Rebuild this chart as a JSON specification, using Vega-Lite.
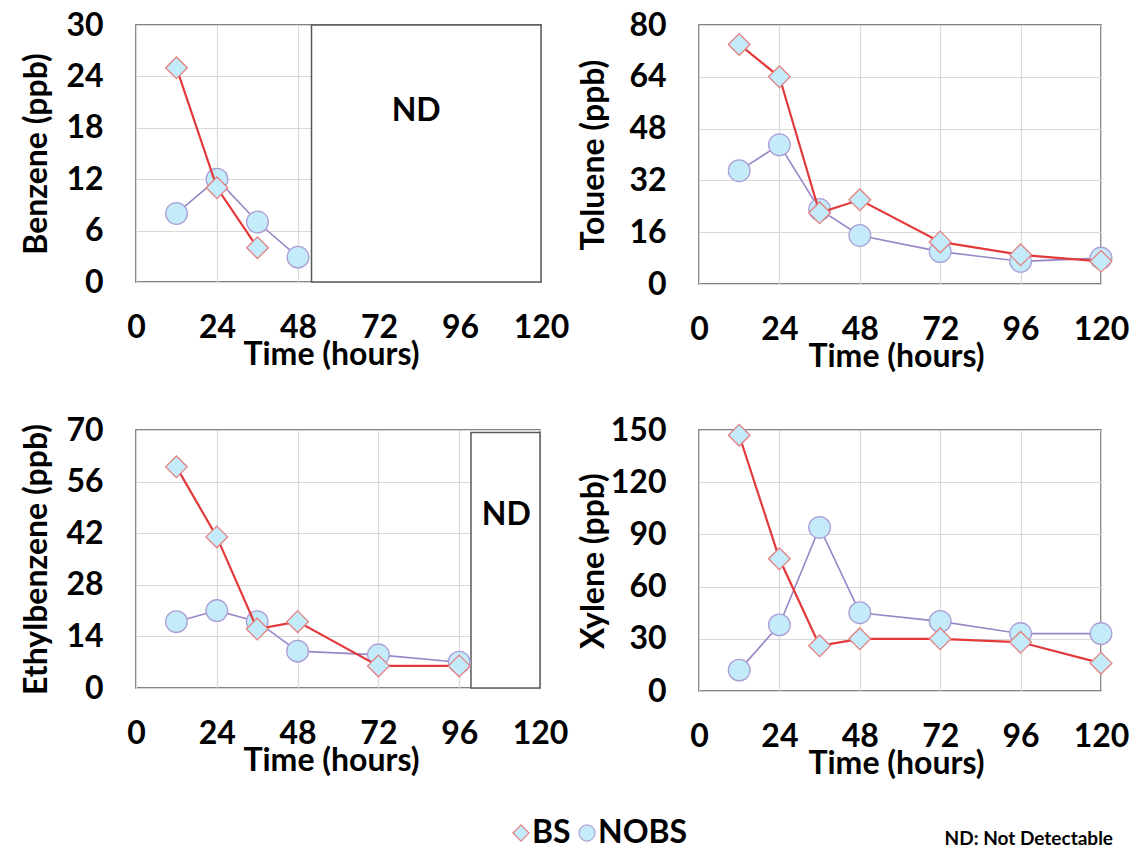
{
 "$schema": "https://vega.github.io/schema/vega-lite/v6.json",
 "padding": {"left": 19, "top": 8, "right": 5, "bottom": 5},
 "background": "white",
 "datasets": {
  "bt": [
   {"compound":"Benzene","series":"NOBS","time":12,"value":8},
   {"compound":"Benzene","series":"NOBS","time":24,"value":12},
   {"compound":"Benzene","series":"NOBS","time":36,"value":7},
   {"compound":"Benzene","series":"NOBS","time":48,"value":2.9},
   {"compound":"Benzene","series":"BS","time":12,"value":25},
   {"compound":"Benzene","series":"BS","time":24,"value":11},
   {"compound":"Benzene","series":"BS","time":36,"value":4},
   {"compound":"Toluene","series":"NOBS","time":12,"value":35},
   {"compound":"Toluene","series":"NOBS","time":24,"value":43},
   {"compound":"Toluene","series":"NOBS","time":36,"value":23},
   {"compound":"Toluene","series":"NOBS","time":48,"value":15},
   {"compound":"Toluene","series":"NOBS","time":72,"value":10},
   {"compound":"Toluene","series":"NOBS","time":96,"value":7},
   {"compound":"Toluene","series":"NOBS","time":120,"value":8},
   {"compound":"Toluene","series":"BS","time":12,"value":74},
   {"compound":"Toluene","series":"BS","time":24,"value":64},
   {"compound":"Toluene","series":"BS","time":36,"value":22},
   {"compound":"Toluene","series":"BS","time":48,"value":26},
   {"compound":"Toluene","series":"BS","time":72,"value":13},
   {"compound":"Toluene","series":"BS","time":96,"value":9},
   {"compound":"Toluene","series":"BS","time":120,"value":7},
   {"compound":"Ethylbenzene","series":"NOBS","time":12,"value":18},
   {"compound":"Ethylbenzene","series":"NOBS","time":24,"value":21},
   {"compound":"Ethylbenzene","series":"NOBS","time":36,"value":18},
   {"compound":"Ethylbenzene","series":"NOBS","time":48,"value":10},
   {"compound":"Ethylbenzene","series":"NOBS","time":72,"value":9},
   {"compound":"Ethylbenzene","series":"NOBS","time":96,"value":7},
   {"compound":"Ethylbenzene","series":"BS","time":12,"value":60},
   {"compound":"Ethylbenzene","series":"BS","time":24,"value":41},
   {"compound":"Ethylbenzene","series":"BS","time":36,"value":16},
   {"compound":"Ethylbenzene","series":"BS","time":48,"value":18},
   {"compound":"Ethylbenzene","series":"BS","time":72,"value":6},
   {"compound":"Ethylbenzene","series":"BS","time":96,"value":6},
   {"compound":"Xylene","series":"NOBS","time":12,"value":12},
   {"compound":"Xylene","series":"NOBS","time":24,"value":38},
   {"compound":"Xylene","series":"NOBS","time":36,"value":94},
   {"compound":"Xylene","series":"NOBS","time":48,"value":45},
   {"compound":"Xylene","series":"NOBS","time":72,"value":40},
   {"compound":"Xylene","series":"NOBS","time":96,"value":33},
   {"compound":"Xylene","series":"NOBS","time":120,"value":33},
   {"compound":"Xylene","series":"BS","time":12,"value":147},
   {"compound":"Xylene","series":"BS","time":24,"value":76},
   {"compound":"Xylene","series":"BS","time":36,"value":26},
   {"compound":"Xylene","series":"BS","time":48,"value":30},
   {"compound":"Xylene","series":"BS","time":72,"value":30},
   {"compound":"Xylene","series":"BS","time":96,"value":28},
   {"compound":"Xylene","series":"BS","time":120,"value":16}
  ],
  "nd": [
   {"compound":"Benzene","time":52,"time2":120,"value":0,"value2":30},
   {"compound":"Ethylbenzene","time":99.5,"time2":120,"value":0,"value2":69.3}
  ],
  "ndlabel": [
   {"compound":"Benzene","time":83,"value":20,"label":"ND"},
   {"compound":"Ethylbenzene","time":110,"value":47,"label":"ND"}
  ]
 },
 "columns": 2,
 "bounds": "flush",
 "spacing": {"column": 158, "row": 146},
 "resolve": {"legend": {"shape": "independent", "stroke": "independent"}},
 "concat": [
  {
   "width": 405, "height": 257,
   "encoding": {
    "x": {"field":"time","type":"quantitative","scale":{"domain":[0,120],"nice":false,"zero":false},"axis":{"values":[0,24,48,72,96,120],"title":"Time (hours)","titleX":195}},
    "y": {"field":"value","type":"quantitative","scale":{"domain":[0,30],"nice":false},"axis":{"values":[0,6,12,18,24,30],"title":"Benzene (ppb)","titleX":-100}}
   },
   "layer": [
    {"data":{"name":"nd"},"transform":[{"filter":{"field":"compound","equal":"Benzene"}}],"mark":{"type":"rect","fill":"white","stroke":"#595959","strokeWidth":1.5},"encoding":{"x2":{"field":"time2"},"y2":{"field":"value2"}}},
    {"data":{"name":"ndlabel"},"transform":[{"filter":{"field":"compound","equal":"Benzene"}}],"mark":{"type":"text","font":"Lato","fontWeight":"bold","fontSize":32,"color":"#000"},"encoding":{"text":{"field":"label"}}},
    {"data":{"name":"bt"},"transform":[{"filter":"datum.compound==='Benzene' && datum.series==='NOBS'"}],"mark":{"type":"line","strokeWidth":1.6,"color":"#9a86c6"},"encoding":{}},
    {"data":{"name":"bt"},"transform":[{"filter":"datum.compound==='Benzene' && datum.series==='NOBS'"}],"mark":{"type":"point","filled":true,"fill":"#c3ebf9","size":470,"strokeWidth":1.3,"opacity":1},"encoding":{"shape":{"field":"series","type":"nominal","scale":{"domain":["BS","NOBS"],"range":["diamond","circle"]},"legend":null},"stroke":{"field":"series","type":"nominal","scale":{"domain":["BS","NOBS"],"range":["#e58080","#ad9fd6"]},"legend":null}}},
    {"data":{"name":"bt"},"transform":[{"filter":"datum.compound==='Benzene' && datum.series==='BS'"}],"mark":{"type":"line","strokeWidth":2.2,"color":"#e2393a"},"encoding":{}},
    {"data":{"name":"bt"},"transform":[{"filter":"datum.compound==='Benzene' && datum.series==='BS'"}],"mark":{"type":"point","filled":true,"fill":"#c3ebf9","size":470,"strokeWidth":1.3,"opacity":1},"encoding":{"shape":{"field":"series","type":"nominal","scale":{"domain":["BS","NOBS"],"range":["diamond","circle"]},"legend":null},"stroke":{"field":"series","type":"nominal","scale":{"domain":["BS","NOBS"],"range":["#e58080","#ad9fd6"]},"legend":null}}}
   ]
  },
  {
   "width": 402, "height": 259,
   "encoding": {
    "x": {"field":"time","type":"quantitative","scale":{"domain":[0,120],"nice":false,"zero":false},"axis":{"values":[0,24,48,72,96,120],"title":"Time (hours)","titleX":197}},
    "y": {"field":"value","type":"quantitative","scale":{"domain":[0,80],"nice":false},"axis":{"values":[0,16,32,48,64,80],"title":"Toluene (ppb)","titleX":-106}}
   },
   "layer": [
    {"data":{"name":"bt"},"transform":[{"filter":"datum.compound==='Toluene' && datum.series==='NOBS'"}],"mark":{"type":"line","strokeWidth":1.6,"color":"#9a86c6"},"encoding":{}},
    {"data":{"name":"bt"},"transform":[{"filter":"datum.compound==='Toluene' && datum.series==='NOBS'"}],"mark":{"type":"point","filled":true,"fill":"#c3ebf9","size":470,"strokeWidth":1.3,"opacity":1},"encoding":{"shape":{"field":"series","type":"nominal","scale":{"domain":["BS","NOBS"],"range":["diamond","circle"]},"legend":null},"stroke":{"field":"series","type":"nominal","scale":{"domain":["BS","NOBS"],"range":["#e58080","#ad9fd6"]},"legend":null}}},
    {"data":{"name":"bt"},"transform":[{"filter":"datum.compound==='Toluene' && datum.series==='BS'"}],"mark":{"type":"line","strokeWidth":2.2,"color":"#e2393a"},"encoding":{}},
    {"data":{"name":"bt"},"transform":[{"filter":"datum.compound==='Toluene' && datum.series==='BS'"}],"mark":{"type":"point","filled":true,"fill":"#c3ebf9","size":470,"strokeWidth":1.3,"opacity":1},"encoding":{"shape":{"field":"series","type":"nominal","scale":{"domain":["BS","NOBS"],"range":["diamond","circle"]},"legend":null},"stroke":{"field":"series","type":"nominal","scale":{"domain":["BS","NOBS"],"range":["#e58080","#ad9fd6"]},"legend":null}}}
   ]
  },
  {
   "width": 404, "height": 258,
   "encoding": {
    "x": {"field":"time","type":"quantitative","scale":{"domain":[0,120],"nice":false,"zero":false},"axis":{"values":[0,24,48,72,96,120],"title":"Time (hours)","titleX":195}},
    "y": {"field":"value","type":"quantitative","scale":{"domain":[0,70],"nice":false},"axis":{"values":[0,14,28,42,56,70],"title":"Ethylbenzene (ppb)","titleX":-100}}
   },
   "layer": [
    {"data":{"name":"nd"},"transform":[{"filter":{"field":"compound","equal":"Ethylbenzene"}}],"mark":{"type":"rect","fill":"white","stroke":"#595959","strokeWidth":1.5},"encoding":{"x2":{"field":"time2"},"y2":{"field":"value2"}}},
    {"data":{"name":"ndlabel"},"transform":[{"filter":{"field":"compound","equal":"Ethylbenzene"}}],"mark":{"type":"text","font":"Lato","fontWeight":"bold","fontSize":32,"color":"#000"},"encoding":{"text":{"field":"label"}}},
    {"data":{"name":"bt"},"transform":[{"filter":"datum.compound==='Ethylbenzene' && datum.series==='NOBS'"}],"mark":{"type":"line","strokeWidth":1.6,"color":"#9a86c6"},"encoding":{}},
    {"data":{"name":"bt"},"transform":[{"filter":"datum.compound==='Ethylbenzene' && datum.series==='NOBS'"}],"mark":{"type":"point","filled":true,"fill":"#c3ebf9","size":470,"strokeWidth":1.3,"opacity":1},"encoding":{"shape":{"field":"series","type":"nominal","scale":{"domain":["BS","NOBS"],"range":["diamond","circle"]},"legend":{"orient":"none","legendX":369,"legendY":387,"direction":"horizontal","title":null}},"stroke":{"field":"series","type":"nominal","scale":{"domain":["BS","NOBS"],"range":["#e58080","#ad9fd6"]},"legend":{"orient":"none","legendX":369,"legendY":387,"direction":"horizontal","title":null}}}},
    {"data":{"name":"bt"},"transform":[{"filter":"datum.compound==='Ethylbenzene' && datum.series==='BS'"}],"mark":{"type":"line","strokeWidth":2.2,"color":"#e2393a"},"encoding":{}},
    {"data":{"name":"bt"},"transform":[{"filter":"datum.compound==='Ethylbenzene' && datum.series==='BS'"}],"mark":{"type":"point","filled":true,"fill":"#c3ebf9","size":470,"strokeWidth":1.3,"opacity":1},"encoding":{"shape":{"field":"series","type":"nominal","scale":{"domain":["BS","NOBS"],"range":["diamond","circle"]},"legend":{"orient":"none","legendX":369,"legendY":387,"direction":"horizontal","title":null}},"stroke":{"field":"series","type":"nominal","scale":{"domain":["BS","NOBS"],"range":["#e58080","#ad9fd6"]},"legend":{"orient":"none","legendX":369,"legendY":387,"direction":"horizontal","title":null}}}}
   ]
  },
  {
   "width": 402, "height": 261,
   "title": {"text":"ND: Not Detectable","orient":"bottom","anchor":"end","frame":"group","font":"Lato","fontWeight":"bold","fontSize":19,"color":"#000","offset":51,"dx":12},
   "encoding": {
    "x": {"field":"time","type":"quantitative","scale":{"domain":[0,120],"nice":false,"zero":false},"axis":{"values":[0,24,48,72,96,120],"title":"Time (hours)","titleX":197}},
    "y": {"field":"value","type":"quantitative","scale":{"domain":[0,150],"nice":false},"axis":{"values":[0,30,60,90,120,150],"title":"Xylene (ppb)","titleX":-106}}
   },
   "layer": [
    {"data":{"name":"bt"},"transform":[{"filter":"datum.compound==='Xylene' && datum.series==='NOBS'"}],"mark":{"type":"line","strokeWidth":1.6,"color":"#9a86c6"},"encoding":{}},
    {"data":{"name":"bt"},"transform":[{"filter":"datum.compound==='Xylene' && datum.series==='NOBS'"}],"mark":{"type":"point","filled":true,"fill":"#c3ebf9","size":470,"strokeWidth":1.3,"opacity":1},"encoding":{"shape":{"field":"series","type":"nominal","scale":{"domain":["BS","NOBS"],"range":["diamond","circle"]},"legend":null},"stroke":{"field":"series","type":"nominal","scale":{"domain":["BS","NOBS"],"range":["#e58080","#ad9fd6"]},"legend":null}}},
    {"data":{"name":"bt"},"transform":[{"filter":"datum.compound==='Xylene' && datum.series==='BS'"}],"mark":{"type":"line","strokeWidth":2.2,"color":"#e2393a"},"encoding":{}},
    {"data":{"name":"bt"},"transform":[{"filter":"datum.compound==='Xylene' && datum.series==='BS'"}],"mark":{"type":"point","filled":true,"fill":"#c3ebf9","size":470,"strokeWidth":1.3,"opacity":1},"encoding":{"shape":{"field":"series","type":"nominal","scale":{"domain":["BS","NOBS"],"range":["diamond","circle"]},"legend":null},"stroke":{"field":"series","type":"nominal","scale":{"domain":["BS","NOBS"],"range":["#e58080","#ad9fd6"]},"legend":null}}}
   ]
  }
 ],
 "config": {
  "view": {"stroke": "#595959", "strokeWidth": 1.5},
  "axis": {"domain": false, "ticks": false, "grid": true, "gridColor": "#d9d9d9", "gridWidth": 1.2, "labelFont": "Lato", "labelFontWeight": "bold", "labelFontSize": 32, "labelColor": "#000", "labelOverlap": false, "labelBound": false, "labelFlush": false, "titleFont": "Lato", "titleFontWeight": "bold", "titleFontSize": 32, "titleColor": "#000", "titleBaseline": "middle"},
  "axisX": {"labelPadding": 30, "titleY": 72},
  "axisY": {"labelPadding": 33},
  "legend": {"labelFont": "Lato", "labelFontWeight": "bold", "labelFontSize": 32, "labelColor": "#000", "symbolSize": 260, "symbolFillColor": "#c3ebf9", "symbolStrokeWidth": 1.2, "columnPadding": 0, "labelOffset": -5, "padding": 0, "symbolOpacity": 1}
 }
}
